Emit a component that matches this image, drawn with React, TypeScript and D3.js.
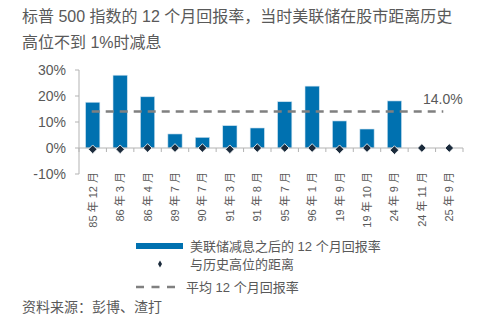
import React from "react";
import * as d3 from "d3";

const categories = ["85 年 12 月", "86 年 3 月", "86 年 4 月", "89 年 7 月", "90 年 7 月", "91 年 3 月", "91 年 8 月", "95 年 7 月", "96 年 1 月", "19 年 9 月", "19 年 10 月", "24 年 9 月", "24 年 11 月", "25 年 9 月"];
const returns12m: (number | null)[] = [17.6, 28.0, 19.7, 5.4, 4.1, 8.6, 7.7, 17.8, 23.8, 10.4, 7.3, 18.1, null, null];
const distFromHigh = [-0.5, -0.5, 0, 0, 0, -0.5, 0, 0, 0, -0.5, 0, -0.8, 0, 0];
const avgReturn = 14.0;
const yTicks = [-10, 0, 10, 20, 30];

const FONT = "'Liberation Sans', Arial, 'Noto Sans CJK SC', sans-serif";
const TXT = "#595959";

export default function App() {
  const x = d3.scaleBand<string>().domain(categories).range([79, 463]).paddingInner(0.48).paddingOuter(0.24);
  const y = d3.scaleLinear().domain([-10, 30]).range([174, 70]);
  const step = x.step();
  const diamond = d3.symbol().type(d3.symbolDiamond2 ?? d3.symbolDiamond).size(48)();
  const first = categories[0];
  const last = categories[categories.length - 1];
  const cx = (c: string) => (x(c) as number) + x.bandwidth() / 2;
  const axisStart = 79;
  const axisEnd = 463;

  return (
    <svg width={482} height={332} style={{ position: "absolute", left: 0, top: 0 }} fontFamily={FONT}>
      <rect width={482} height={332} fill="#fff" />
      <text x={22} y={22} fontSize={16} fill={TXT}>标普 500 指数的 12 个月回报率，当时美联储在股市距离历史</text>
      <text x={22} y={48} fontSize={16} fill={TXT}>高位不到 1%时减息</text>

      {/* y axis */}
      <line x1={axisStart} x2={axisStart} y1={y(30)} y2={y(-10)} stroke="#b3b3b3" strokeWidth={1} />
      {yTicks.map((t) => (
        <g key={t}>
          <line x1={axisStart - 4} x2={axisStart} y1={y(t)} y2={y(t)} stroke="#b3b3b3" />
          <text x={66} y={y(t)} dy="0.36em" textAnchor="end" fontSize={14} fill={TXT}>{`${t}%`}</text>
        </g>
      ))}

      {/* bars */}
      {categories.map((c, i) => {
        const v = returns12m[i];
        if (v == null) return null;
        return (
          <rect key={c} x={x(c)} y={y(v)} width={x.bandwidth()} height={y(0) - y(v)} fill="#0071b0" stroke="#cfe3f0" strokeWidth={0.6} />
        );
      })}

      {/* x axis */}
      <line x1={axisStart} x2={axisEnd} y1={y(0)} y2={y(0)} stroke="#b3b3b3" strokeWidth={1.2} />
      {d3.range(categories.length + 1).map((i) => (
        <line key={i} x1={axisStart + i * step} x2={axisStart + i * step} y1={y(0)} y2={y(0) + 4} stroke="#b3b3b3" />
      ))}

      {/* average line */}
      <line x1={cx(first) - 1} x2={cx(last) - 6} y1={y(avgReturn)} y2={y(avgReturn)} stroke="#808080" strokeWidth={2.5} strokeDasharray="8,6" />
      <text x={423} y={104} fontSize={14} fill={TXT}>{`${avgReturn.toFixed(1)}%`}</text>

      {/* diamonds */}
      {categories.map((c, i) => (
        <path key={c} d={diamond as string} transform={`translate(${cx(c)},${y(distFromHigh[i])})`} fill="#1b2b3c" stroke="#fff" strokeWidth={0.8} />
      ))}

      {/* x labels */}
      {categories.map((c) => (
        <text key={c} transform={`translate(${cx(c)},172) rotate(-90)`} textAnchor="end" dy="0.36em" fontSize={11} fill={TXT}>{c}</text>
      ))}

      {/* legend */}
      <rect x={136} y={243} width={47} height={6} fill="#0071b0" />
      <text x={190} y={251} fontSize={13} fill={TXT}>美联储减息之后的 12 个月回报率</text>
      <path d={d3.symbol().type(d3.symbolDiamond).size(14)() as string} transform="translate(160,264)" fill="#1b2b3c" />
      <text x={190} y={268.5} fontSize={13} fill={TXT}>与历史高位的距离</text>
      <line x1={136} x2={176} y1={287} y2={287} stroke="#808080" strokeWidth={2.5} strokeDasharray="8,7.5" />
      <text x={186} y={291.5} fontSize={13} fill={TXT}>平均 12 个月回报率</text>
      <text x={22} y={312} fontSize={14} fill={TXT}>资料来源：彭博、渣打</text>
    </svg>
  );
}
